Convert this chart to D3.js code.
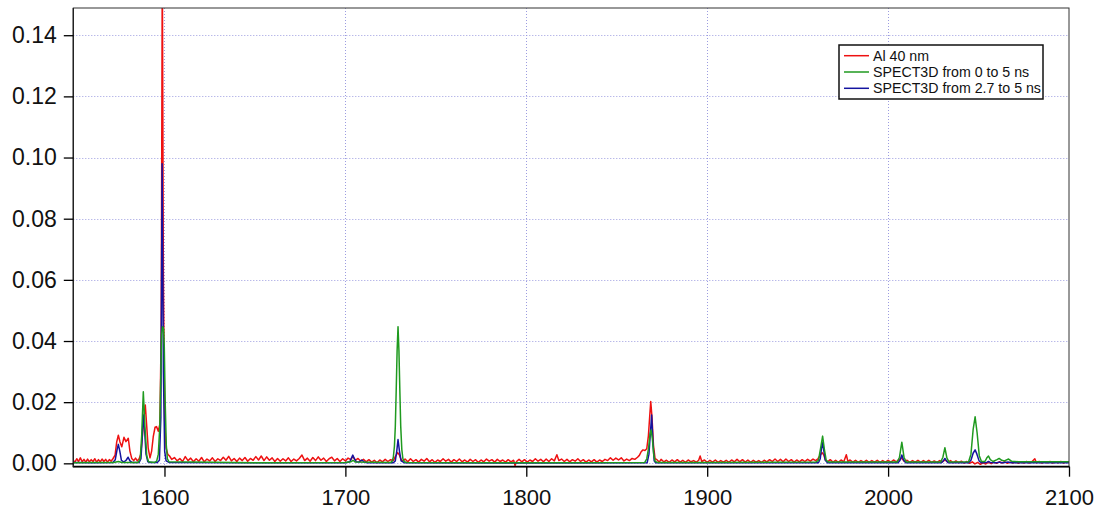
<!DOCTYPE html>
<html>
<head>
<meta charset="utf-8">
<script src="https://cdn.jsdelivr.net/npm/d3@7/dist/d3.min.js"></script>
<style>
  html, body { margin: 0; padding: 0; background: #ffffff; }
  svg { display: block; font-family: "Liberation Sans", Arial, sans-serif; }
</style>
</head>
<body>
<svg id="chart" width="1103" height="509"></svg>
<script>
// Axis ticks
const xTicks = [1600, 1700, 1800, 1900, 2000, 2100];
const yTicks = [0.00, 0.02, 0.04, 0.06, 0.08, 0.10, 0.12, 0.14];

// Series names and colours
const seriesNames = ["Al 40 nm", "SPECT3D from 0 to 5 ns", "SPECT3D from 2.7 to 5 ns"];
const seriesColors = ["#ee1111", "#1f9a1f", "#1414a0"];

// Measured spectrum, Al 40 nm: [wavelength, intensity]
const alMeasured = [
  [1549.6,0.0009],[1550.5,0.0004],[1551.5,0.0015],[1552.5,0.0006],[1553.5,0.0018],[1554.5,0.0005],
  [1555.5,0.0013],[1556.5,0.0004],[1557.5,0.0014],[1558.5,0.0005],[1559.5,0.0012],[1560.5,0.0006],
  [1561.5,0.0015],[1562.5,0.0004],[1563.5,0.0012],[1564.5,0.0005],[1565.5,0.0014],[1566.5,0.0006],
  [1567.5,0.0013],[1568.5,0.0004],[1569.5,0.0012],[1570.5,0.0007],[1571.5,0.0015],[1572.7,0.0027],
  [1573.6,0.0070],[1574.5,0.0092],[1575.4,0.0070],[1576.4,0.0054],[1577.6,0.0085],[1578.7,0.0071],
  [1580.0,0.0082],[1580.9,0.0040],[1581.9,0.0016],[1583.0,0.0009],[1584.0,0.0017],[1585.0,0.0008],
  [1586.0,0.0015],[1586.9,0.0030],[1587.8,0.0090],[1588.6,0.0150],[1589.4,0.0191],[1590.2,0.0120],
  [1591.0,0.0050],[1592.0,0.0018],[1592.9,0.0040],[1593.8,0.0087],[1594.8,0.0118],[1595.6,0.0120],
  [1596.6,0.0105],[1597.5,0.0130],[1598.2,0.0450],[1598.8,0.1650],[1599.4,0.0600],[1600.1,0.0140],
  [1600.9,0.0050],[1601.8,0.0030],[1602.8,0.0024],[1604.0,0.0013],[1605.5,0.0019],[1607.0,0.0008],
  [1608.5,0.0016],[1610.0,0.0006],[1611.5,0.0022],[1613.0,0.0009],[1614.5,0.0017],[1616.0,0.0005],
  [1617.5,0.0015],[1619.0,0.0007],[1620.5,0.0019],[1622.0,0.0005],[1623.5,0.0014],[1625.0,0.0008],
  [1626.5,0.0018],[1628.0,0.0006],[1629.5,0.0015],[1631.0,0.0009],[1632.5,0.0020],[1634.0,0.0010],
  [1635.5,0.0023],[1637.0,0.0008],[1638.5,0.0016],[1640.0,0.0006],[1641.5,0.0017],[1643.0,0.0009],
  [1644.5,0.0019],[1646.0,0.0007],[1647.5,0.0016],[1649.0,0.0010],[1650.5,0.0022],[1652.0,0.0011],
  [1653.5,0.0024],[1655.0,0.0009],[1656.5,0.0021],[1658.0,0.0010],[1659.5,0.0018],[1661.0,0.0006],
  [1662.5,0.0016],[1664.0,0.0007],[1665.5,0.0015],[1667.0,0.0008],[1668.5,0.0018],[1670.0,0.0006],
  [1671.5,0.0014],[1673.0,0.0008],[1674.5,0.0016],[1676.0,0.0027],[1677.5,0.0009],[1679.0,0.0017],
  [1680.5,0.0007],[1682.0,0.0019],[1683.5,0.0009],[1685.0,0.0021],[1686.5,0.0010],[1688.0,0.0017],
  [1689.5,0.0006],[1691.0,0.0015],[1692.5,0.0020],[1694.0,0.0008],[1695.5,0.0016],[1697.0,0.0006],
  [1698.5,0.0015],[1700.0,0.0008],[1701.5,0.0017],[1703.0,0.0012],[1704.2,0.0023],[1705.5,0.0010],
  [1707.0,0.0016],[1708.5,0.0007],[1710.0,0.0013],[1711.5,0.0005],[1713.0,0.0012],[1714.5,0.0004],
  [1716.0,0.0010],[1717.5,0.0002],[1719.0,0.0011],[1720.5,0.0005],[1722.0,0.0013],[1723.5,0.0006],
  [1725.0,0.0012],[1726.5,0.0009],[1727.6,0.0022],[1728.9,0.0035],[1729.8,0.0028],[1730.7,0.0013],
  [1731.6,0.0007],[1733.0,0.0014],[1734.5,0.0005],[1736.0,0.0015],[1737.5,0.0006],[1739.0,0.0012],
  [1740.5,0.0004],[1742.0,0.0013],[1743.5,0.0007],[1745.0,0.0016],[1746.5,0.0005],[1748.0,0.0012],
  [1749.5,0.0003],[1751.0,0.0011],[1752.5,0.0006],[1754.0,0.0015],[1755.5,0.0007],[1757.0,0.0013],
  [1758.5,0.0004],[1760.0,0.0012],[1761.5,0.0006],[1763.0,0.0014],[1764.5,0.0005],[1766.0,0.0011],
  [1767.5,0.0004],[1769.0,0.0013],[1770.5,0.0006],[1772.0,0.0012],[1773.5,0.0003],[1775.0,0.0011],
  [1776.5,0.0005],[1778.0,0.0014],[1779.5,0.0007],[1781.0,0.0012],[1782.5,0.0004],[1784.0,0.0013],
  [1785.5,0.0006],[1787.0,0.0011],[1788.5,0.0004],[1790.0,0.0012],[1791.5,0.0005],[1793.0,0.0010],
  [1793.8,-0.0007],[1794.6,0.0006],[1796.0,0.0013],[1797.5,0.0005],[1799.0,0.0012],[1800.5,0.0004],
  [1802.0,0.0011],[1803.5,0.0006],[1805.0,0.0015],[1806.5,0.0007],[1808.0,0.0013],[1809.5,0.0005],
  [1811.0,0.0014],[1812.5,0.0006],[1814.0,0.0015],[1815.5,0.0008],[1816.9,0.0028],[1818.0,0.0009],
  [1819.5,0.0014],[1821.0,0.0006],[1822.5,0.0013],[1824.0,0.0005],[1825.5,0.0012],[1827.0,0.0007],
  [1828.5,0.0015],[1830.0,0.0006],[1831.5,0.0012],[1833.0,0.0004],[1834.5,0.0011],[1836.0,0.0005],
  [1837.5,0.0012],[1839.0,0.0004],[1840.5,0.0011],[1842.0,0.0006],[1843.5,0.0013],[1845.0,0.0009],
  [1846.5,0.0018],[1848.0,0.0010],[1849.5,0.0017],[1851.0,0.0011],[1852.5,0.0018],[1854.0,0.0008],
  [1855.5,0.0014],[1857.0,0.0009],[1858.5,0.0016],[1860.0,0.0013],[1861.5,0.0020],[1862.5,0.0026],
  [1863.5,0.0038],[1864.5,0.0044],[1865.6,0.0042],[1866.6,0.0048],[1867.5,0.0090],[1868.3,0.0160],
  [1868.8,0.0202],[1869.5,0.0150],[1870.3,0.0060],[1871.2,0.0015],[1872.2,0.0012],[1873.5,0.0004],
  [1874.5,0.0013],[1876.0,0.0005],[1877.5,0.0010],[1879.0,0.0003],[1880.5,0.0011],[1882.0,0.0005],
  [1883.5,0.0012],[1885.0,0.0004],[1886.5,0.0010],[1888.0,0.0003],[1889.5,0.0011],[1891.0,0.0005],
  [1892.5,0.0009],[1894.0,0.0004],[1895.3,0.0010],[1896.1,0.0024],[1897.0,0.0006],[1898.5,0.0011],
  [1900.0,0.0003],[1901.5,0.0010],[1903.0,0.0004],[1904.5,0.0011],[1906.0,0.0003],[1907.5,0.0009],
  [1909.0,0.0004],[1910.5,0.0010],[1912.0,0.0003],[1913.5,0.0011],[1915.0,0.0005],[1916.5,0.0013],
  [1918.0,0.0005],[1919.5,0.0012],[1921.0,0.0004],[1922.5,0.0011],[1924.0,0.0003],[1925.5,0.0010],
  [1927.0,0.0004],[1928.5,0.0009],[1930.0,0.0003],[1931.5,0.0010],[1933.0,0.0005],[1934.5,0.0012],
  [1936.0,0.0006],[1937.5,0.0014],[1939.0,0.0006],[1940.5,0.0013],[1942.0,0.0005],[1943.5,0.0014],
  [1945.0,0.0006],[1946.5,0.0012],[1948.0,0.0004],[1949.5,0.0011],[1951.0,0.0005],[1952.5,0.0012],
  [1954.0,0.0006],[1955.5,0.0013],[1957.0,0.0007],[1958.5,0.0014],[1960.0,0.0009],[1961.2,0.0015],
  [1962.4,0.0025],[1963.5,0.0035],[1964.4,0.0028],[1965.3,0.0012],[1966.5,0.0005],[1968.0,0.0012],
  [1969.5,0.0004],[1971.0,0.0010],[1972.5,0.0003],[1974.0,0.0011],[1975.5,0.0005],[1976.9,0.0028],
  [1977.8,0.0006],[1979.0,0.0011],[1980.5,0.0004],[1982.0,0.0010],[1983.5,0.0003],[1985.0,0.0009],
  [1986.5,0.0004],[1988.0,0.0010],[1989.5,0.0003],[1991.0,0.0009],[1992.5,0.0004],[1994.0,0.0010],
  [1995.5,0.0003],[1997.0,0.0009],[1998.5,0.0004],[2000.0,0.0010],[2001.5,0.0004],[2003.0,0.0011],
  [2004.5,0.0005],[2006.0,0.0012],[2007.5,0.0017],[2009.0,0.0006],[2010.5,0.0010],[2012.0,0.0003],
  [2013.5,0.0009],[2015.0,0.0004],[2016.5,0.0010],[2018.0,0.0003],[2019.5,0.0009],[2021.0,0.0004],
  [2022.5,0.0010],[2024.0,0.0003],[2025.5,0.0008],[2027.0,0.0003],[2028.5,0.0009],[2030.0,0.0005],
  [2031.5,0.0011],[2033.0,0.0004],[2034.5,0.0009],[2036.0,0.0002],[2037.5,0.0008],[2039.0,0.0002],
  [2040.5,0.0007],[2042.0,0.0001],[2043.5,0.0006],[2045.0,0.0000],[2046.5,0.0005],[2048.0,-0.0002],
  [2049.5,0.0003],[2051.0,-0.0003],[2052.5,0.0002],[2054.0,-0.0002],[2055.5,0.0003],[2057.0,-0.0001],
  [2058.5,0.0004],[2060.0,0.0000],[2061.5,0.0005],[2063.0,0.0001],[2064.5,0.0005],[2066.0,0.0000],
  [2067.5,0.0004],[2069.0,0.0001],[2070.5,0.0005],[2072.0,0.0000],[2073.5,0.0004],[2075.0,0.0001],
  [2076.5,0.0006],[2078.0,0.0001],[2079.5,0.0005],[2081.1,0.0015],[2082.0,0.0002],[2083.5,0.0006],
  [2085.0,0.0001],[2086.5,0.0005],[2088.0,0.0002],[2089.5,0.0006],[2091.0,0.0001],[2092.5,0.0005],
  [2094.0,0.0002],[2095.5,0.0006],[2097.0,0.0001],[2098.5,0.0005],[2100.0,0.0003]
];

// Simulated spectrum, SPECT3D integrated from 0 to 5 ns
const spect0to5 = [
  [1549.6,0.0002],[1560.0,0.0003],[1572.0,0.0003],[1574.5,0.0006],[1576.5,0.0003],[1585.5,0.0003],
  [1586.6,0.0015],[1587.4,0.0090],[1588.3,0.0234],[1589.2,0.0120],[1590.2,0.0025],[1591.2,0.0005],
  [1594.5,0.0003],[1595.7,0.0007],[1596.6,0.0030],[1597.4,0.0120],[1598.0,0.0300],[1598.4,0.0420],
  [1598.9,0.0447],[1599.5,0.0440],[1599.9,0.0380],[1600.4,0.0200],[1601.0,0.0060],[1601.6,0.0015],
  [1602.5,0.0005],[1650.0,0.0002],
  [1700.0,0.0003],[1703.0,0.0005],[1704.2,0.0010],[1705.5,0.0004],[1725.0,0.0003],[1725.8,0.0006],
  [1726.5,0.0020],[1727.1,0.0055],[1727.6,0.0120],[1728.1,0.0240],[1728.6,0.0370],[1729.1,0.0447],
  [1729.6,0.0370],[1730.1,0.0240],[1730.6,0.0120],[1731.2,0.0045],[1731.8,0.0015],[1732.6,0.0005],
  [1734.0,0.0003],[1800.0,0.0002],[1865.5,0.0003],[1866.6,0.0015],[1867.6,0.0050],[1868.4,0.0095],
  [1869.0,0.0109],[1869.7,0.0080],[1870.5,0.0025],[1871.3,0.0006],[1872.5,0.0003],[1900.0,0.0003],
  [1960.0,0.0004],[1961.5,0.0010],[1962.7,0.0050],[1963.8,0.0089],[1964.8,0.0045],[1965.8,0.0010],
  [1967.0,0.0004],[2005.0,0.0004],[2006.3,0.0020],[2007.6,0.0069],[2008.8,0.0020],[2010.0,0.0004],
  [2029.0,0.0004],[2030.3,0.0020],[2031.4,0.0051],[2032.5,0.0018],[2033.7,0.0004],[2044.5,0.0005],
  [2045.8,0.0030],[2047.0,0.0110],[2048.1,0.0152],[2049.2,0.0100],[2050.4,0.0025],[2051.6,0.0006],
  [2053.5,0.0006],[2054.6,0.0018],[2055.5,0.0024],[2056.5,0.0012],[2058.0,0.0006],[2060.2,0.0012],
  [2061.4,0.0016],[2062.8,0.0010],[2064.3,0.0008],[2066.6,0.0014],[2068.2,0.0007],[2072.0,0.0005],
  [2085.0,0.0005],[2100.0,0.0005]
];

// Simulated spectrum, SPECT3D integrated from 2.7 to 5 ns
const spect27to5 = [
  [1549.6,0.0003],[1560.0,0.0002],[1571.5,0.0003],[1572.8,0.0012],[1573.8,0.0045],[1574.5,0.0062],
  [1575.3,0.0040],[1576.2,0.0010],[1577.5,0.0004],[1578.8,0.0010],[1579.9,0.0020],[1580.9,0.0008],
  [1582.0,0.0003],[1586.0,0.0003],[1587.0,0.0015],[1587.7,0.0085],[1588.3,0.0158],[1589.0,0.0110],
  [1589.8,0.0030],[1590.8,0.0005],[1592.0,0.0003],[1596.0,0.0003],[1597.2,0.0010],[1598.0,0.0150],
  [1598.7,0.0980],[1599.4,0.0300],[1600.1,0.0040],[1600.9,0.0008],[1602.5,0.0003],[1650.0,0.0002],
  [1700.0,0.0002],[1702.5,0.0005],[1703.4,0.0018],[1704.1,0.0027],[1704.9,0.0016],[1706.0,0.0005],
  [1707.5,0.0004],[1709.0,0.0011],[1710.5,0.0004],[1712.0,0.0002],[1726.5,0.0002],[1727.6,0.0008],
  [1728.4,0.0040],[1729.1,0.0078],[1729.9,0.0040],[1730.8,0.0008],[1732.5,0.0002],[1800.0,0.0001],
  [1866.8,0.0002],[1867.8,0.0030],[1868.6,0.0100],[1869.3,0.0158],[1870.0,0.0070],[1870.7,0.0008],
  [1871.5,0.0002],[1900.0,0.0002],[1961.5,0.0002],[1962.5,0.0015],[1963.2,0.0050],[1963.8,0.0067],
  [1964.5,0.0040],[1965.3,0.0010],[1966.5,0.0002],[2005.5,0.0002],[2006.6,0.0010],[2007.6,0.0027],
  [2008.6,0.0010],[2009.8,0.0002],[2029.5,0.0002],[2030.5,0.0008],[2031.4,0.0016],[2032.3,0.0008],
  [2033.3,0.0002],[2044.5,0.0002],[2045.8,0.0010],[2047.0,0.0033],[2048.1,0.0044],[2049.1,0.0030],
  [2050.3,0.0008],[2051.5,0.0002],[2054.5,0.0003],[2055.5,0.0006],[2056.5,0.0003],[2060.0,0.0002],
  [2061.4,0.0004],[2063.0,0.0002],[2066.6,0.0004],[2068.0,0.0002],[2080.0,0.0002],[2100.0,0.0002]
];

const series = [alMeasured, spect0to5, spect27to5];

// Layout
const W = 1103, H = 509;
const plot = { left: 73.3, right: 1069, top: 8, bottom: 466.7 };

const svg = d3.select("#chart");

const x = d3.scaleLinear().domain([1549.6, 2100]).range([plot.left, plot.right]);
const y = d3.scaleLinear().domain([-0.0011, 0.1489]).range([plot.bottom, plot.top]);

// Dotted grid
const grid = svg.append("g").attr("class", "grid")
  .attr("stroke", "#9c9ce0").attr("stroke-width", 1).attr("stroke-dasharray", "1,2");
grid.selectAll("line.gx").data(xTicks.filter(t => t < 2100)).join("line")
  .attr("class", "gx")
  .attr("x1", d => Math.round(x(d)) + 0.5).attr("x2", d => Math.round(x(d)) + 0.5)
  .attr("y1", plot.top).attr("y2", plot.bottom);
grid.selectAll("line.gy").data(yTicks).join("line")
  .attr("class", "gy")
  .attr("y1", d => Math.round(y(d)) + 0.5).attr("y2", d => Math.round(y(d)) + 0.5)
  .attr("x1", plot.left).attr("x2", plot.right);

// Clip for traces
svg.append("clipPath").attr("id", "plotClip")
  .append("rect")
  .attr("x", plot.left).attr("y", plot.top)
  .attr("width", plot.right - plot.left).attr("height", plot.bottom - plot.top);

const line = d3.line().x(d => x(d[0])).y(d => y(d[1]));

const traces = svg.append("g").attr("clip-path", "url(#plotClip)");
// red first, then blue, green on top
[0, 2, 1].forEach(i => {
  traces.append("path")
    .datum(series[i])
    .attr("fill", "none")
    .attr("stroke", seriesColors[i])
    .attr("stroke-width", 1.5)
    .attr("stroke-linejoin", "round")
    .attr("d", line);
});

// Frame
svg.append("rect")
  .attr("x", plot.left).attr("y", plot.top)
  .attr("width", plot.right - plot.left).attr("height", plot.bottom - plot.top)
  .attr("fill", "none").attr("stroke", "#333").attr("stroke-width", 1);
svg.append("line")
  .attr("x1", plot.left - 0.5).attr("x2", plot.right + 0.5)
  .attr("y1", plot.bottom).attr("y2", plot.bottom)
  .attr("stroke", "#000").attr("stroke-width", 1.8);
svg.append("line")
  .attr("x1", plot.left).attr("x2", plot.left)
  .attr("y1", plot.top).attr("y2", plot.bottom)
  .attr("stroke", "#222").attr("stroke-width", 1.4);

// Axes
const yAxis = d3.axisLeft(y).tickValues(yTicks).tickFormat(d3.format(".2f"))
  .tickSize(9.5).tickPadding(7);
const gy = svg.append("g").attr("transform", `translate(${plot.left},0)`).call(yAxis);
gy.select(".domain").remove();
gy.selectAll(".tick line").attr("stroke", "#000").attr("stroke-width", 1.3);
gy.selectAll(".tick text").attr("font-size", 23).attr("fill", "#111")
  .attr("font-family", "'Liberation Sans', Arial, sans-serif");

const xAxis = d3.axisBottom(x).tickValues(xTicks).tickFormat(d3.format("d"))
  .tickSize(10).tickPadding(13);
const gx = svg.append("g").attr("transform", `translate(0,${plot.bottom})`).call(xAxis);
gx.select(".domain").remove();
gx.selectAll(".tick line").attr("stroke", "#000").attr("stroke-width", 1.3);
gx.selectAll(".tick text").attr("font-size", 22).attr("fill", "#111")
  .attr("font-family", "'Liberation Sans', Arial, sans-serif");

// Legend
const legend = svg.append("g").attr("transform", "translate(839,45)");
legend.append("rect")
  .attr("width", 204).attr("height", 54)
  .attr("fill", "#fff").attr("stroke", "#111").attr("stroke-width", 1.5);
seriesNames.forEach((name, i) => {
  const row = legend.append("g").attr("transform", `translate(0,${10.7 + i * 16.3})`);
  row.append("line").attr("x1", 5).attr("x2", 30).attr("y1", 0).attr("y2", 0)
    .attr("stroke", seriesColors[i]).attr("stroke-width", 1.5);
  row.append("text").attr("x", 34).attr("y", 0).attr("dy", "0.35em")
    .attr("font-size", 14.2).attr("fill", "#111").text(name);
});
</script>
</body>
</html>
